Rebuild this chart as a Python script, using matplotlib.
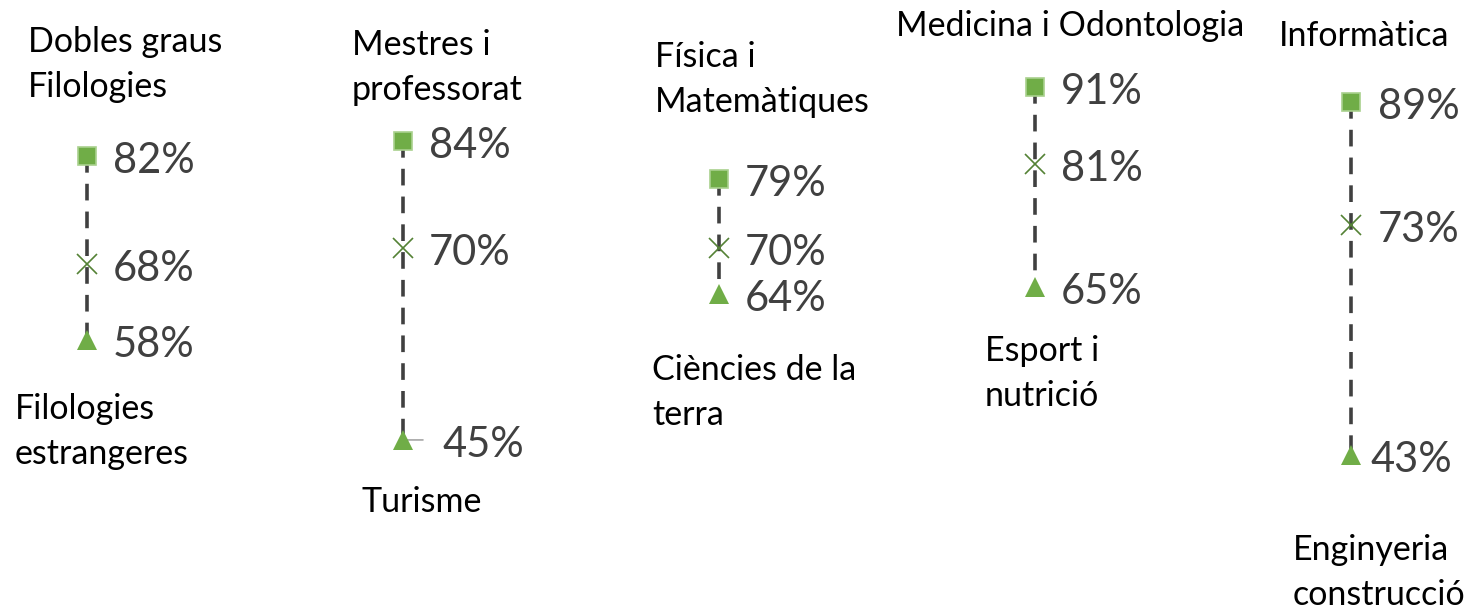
import matplotlib
matplotlib.use("Agg")
import matplotlib.pyplot as plt

plt.rcParams['font.family'] = ['Lato', 'DejaVu Sans']
plt.rcParams['lines.scale_dashes'] = False

# ---- data ----
max_labels = ["Dobles graus\nFilologies", "Mestres i\nprofessorat", "Física i\nMatemàtiques",
              "Medicina i Odontologia", "Informàtica"]
min_labels = ["Filologies\nestrangeres", "Turisme", "Ciències de la\nterra",
              "Esport i\nnutrició", "Enginyeria\nconstrucció"]
max_vals = [82, 84, 79, 91, 89]
mean_vals = [68, 70, 70, 81, 73]
min_vals = [58, 45, 64, 65, 43]

# ---- layout (pixel offsets of labels relative to markers) ----
top_off = [(-59, 92), (-51, 73), (-64, 100), (-139, 61), (-72, 66)]
bot_off = [(-72, -91), (-41, -62), (-67, -98), (-50, -87), (-58, -117)]
pct_dx_max = [26, 26, 26, 26, 27]
pct_dx_mean = [26, 26, 26, 26, 27]
pct_dx_min = [26, 40, 26, 26, 19]

W, H = 1469, 611
fig = plt.figure(figsize=(W / 100, H / 100), dpi=100)
ax = fig.add_axes([0, 0, 1, 1])
ax.set_xlim(-0.275, 4.373)
ax.set_ylim(22.7, 102.35)
ax.axis('off')

green = '#70AD47'
dark_green = '#548235'
edge_green = '#A9D18E'
line_col = '#404040'
pct_col = '#404040'

x = list(range(len(max_vals)))
for i in x:
    ax.plot([i, i], [max_vals[i], min_vals[i]], color=line_col, lw=2.6,
            dashes=(12, 8), zorder=1, solid_capstyle='butt', dash_capstyle='butt')

ax.plot(x, max_vals, ls='none', marker='s', ms=13.5, mfc=green, mec=edge_green, mew=1.2, zorder=3)
ax.plot(x, mean_vals, ls='none', marker='x', ms=14, mec=dark_green, mew=1.2, zorder=3)
ax.plot(x, min_vals, ls='none', marker='^', ms=15, mfc=green, mec=green, mew=0, zorder=3)

pct_fs = 30
cat_fs = 24.5
for i in x:
    ax.annotate(f"{max_vals[i]}%", (i, max_vals[i]), xytext=(pct_dx_max[i], -5),
                textcoords='offset pixels', ha='left', va='center', fontsize=pct_fs, color=pct_col)
    ax.annotate(f"{mean_vals[i]}%", (i, mean_vals[i]), xytext=(pct_dx_mean[i], -5),
                textcoords='offset pixels', ha='left', va='center', fontsize=pct_fs, color=pct_col)
    ax.annotate(f"{min_vals[i]}%", (i, min_vals[i]), xytext=(pct_dx_min[i], -5),
                textcoords='offset pixels', ha='left', va='center', fontsize=pct_fs, color=pct_col)
    ax.annotate(max_labels[i], (i, max_vals[i]), xytext=top_off[i],
                textcoords='offset pixels', ha='left', va='center', fontsize=cat_fs,
                color='black', linespacing=1.5, multialignment='left')
    ax.annotate(min_labels[i], (i, min_vals[i]), xytext=bot_off[i],
                textcoords='offset pixels', ha='left', va='center', fontsize=cat_fs,
                color='black', linespacing=1.5, multialignment='left')

# leader line for the Turisme label
ax.annotate("", (1, min_vals[1]), xytext=(20, 0), textcoords='offset pixels',
            arrowprops=dict(arrowstyle='-', color='#A6A6A6', lw=1.2, shrinkA=0, shrinkB=0), zorder=2)

fig.savefig("out.png", dpi=100)
